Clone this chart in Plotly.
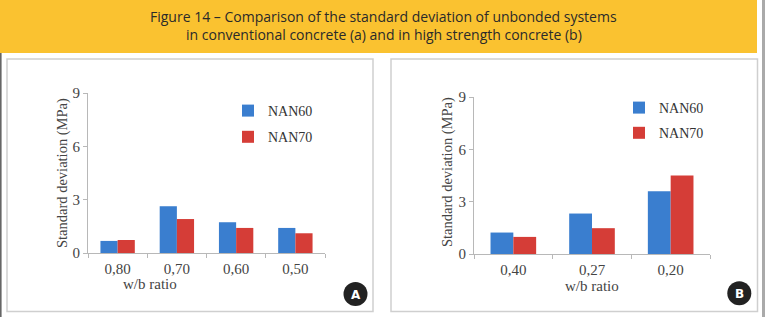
import plotly.graph_objects as go

W, H = 767, 317
def X(p): return p / W
def Y(p): return 1 - p / H

# ---- data ----
cats_a = ["0,80", "0,70", "0,60", "0,50"]
nan60_a = [0.68, 2.63, 1.73, 1.41]
nan70_a = [0.73, 1.91, 1.41, 1.11]

cats_b = ["0,40", "0,27", "0,20"]
nan60_b = [1.23, 2.32, 3.60]
nan70_b = [0.98, 1.48, 4.50]

y_ticks = [0, 3, 6, 9]
title_lines = ["Figure 14 – Comparison of the standard deviation of unbonded systems",
               "in conventional concrete (a) and in high strength concrete (b)"]

BLUE = "#3a7ecf"
RED = "#d53d37"
SERIF = "Liberation Serif"
AX = "#b8b8b8"

fig = go.Figure()
fig.add_trace(go.Bar(x=cats_a, y=nan60_a, name="NAN60", marker=dict(color=BLUE, line=dict(width=0)),
                     xaxis="x", yaxis="y", legend="legend", legendgroup="a1"))
fig.add_trace(go.Bar(x=cats_a, y=nan70_a, name="NAN70", marker=dict(color=RED, line=dict(width=0)),
                     xaxis="x", yaxis="y", legend="legend", legendgroup="a2"))
fig.add_trace(go.Bar(x=cats_b, y=nan60_b, name="NAN60", marker=dict(color=BLUE, line=dict(width=0)),
                     xaxis="x2", yaxis="y2", legend="legend2", legendgroup="b1"))
fig.add_trace(go.Bar(x=cats_b, y=nan70_b, name="NAN70", marker=dict(color=RED, line=dict(width=0)),
                     xaxis="x2", yaxis="y2", legend="legend2", legendgroup="b2"))

xcommon = dict(type="category", showgrid=False, showline=True, linecolor=AX, linewidth=1.2,
               ticks="outside", tickson="boundaries", ticklen=4, tickcolor=AX, automargin=False,
               ticklabelstandoff=2,
               tickfont=dict(family=SERIF, size=15, color="#444"), fixedrange=True)
ycommon = dict(range=[0, 9], tickvals=y_ticks, showgrid=False, showline=True, linecolor=AX,
               linewidth=1.2, ticks="outside", ticklen=4, tickcolor=AX, zeroline=False, automargin=False,
               ticksuffix="\u2002",
               tickfont=dict(family=SERIF, size=15, color="#444"), fixedrange=True)

fig.update_layout(
    width=W, height=H, margin=dict(l=0, r=0, t=0, b=0, pad=0, autoexpand=False),
    paper_bgcolor="white", plot_bgcolor="rgba(0,0,0,0)",
    barmode="group", bargap=0.42, bargroupgap=0,
    xaxis=dict(domain=[X(88), X(325)], anchor="y", **xcommon),
    yaxis=dict(domain=[Y(253), Y(93)], anchor="x", **ycommon),
    xaxis2=dict(domain=[X(474), X(710)], anchor="y2", **xcommon),
    yaxis2=dict(domain=[Y(254), Y(97)], anchor="x2", **ycommon),
    legend=dict(x=X(228), y=Y(95), xanchor="left", yanchor="top", bgcolor="rgba(0,0,0,0)",
                font=dict(family=SERIF, size=14, color="#333"), traceorder="grouped",
                tracegroupgap=5, itemwidth=30),
    legend2=dict(x=X(619), y=Y(92), xanchor="left", yanchor="top", bgcolor="rgba(0,0,0,0)",
                 font=dict(family=SERIF, size=14, color="#333"), traceorder="grouped",
                 tracegroupgap=4, itemwidth=30),
    showlegend=True,
)

shapes = [
    # banner
    dict(type="rect", xref="paper", yref="paper", x0=X(0), x1=X(757), y0=Y(0), y1=Y(53),
         fillcolor="#fac230", line=dict(width=0), layer="below"),
    # page edge lines
    dict(type="line", xref="paper", yref="paper", x0=X(0.8), x1=X(0.8), y0=Y(53), y1=Y(317),
         line=dict(color="#666", width=1.6)),
    dict(type="line", xref="paper", yref="paper", x0=X(763.5), x1=X(763.5), y0=Y(0), y1=Y(317),
         line=dict(color="#aaa", width=3)),
    # panels
    dict(type="rect", xref="paper", yref="paper", x0=X(7), x1=X(373), y0=Y(59), y1=Y(311.5),
         line=dict(color="#cfcfcf", width=1.5), layer="below"),
    dict(type="rect", xref="paper", yref="paper", x0=X(391), x1=X(757.5), y0=Y(59), y1=Y(311.5),
         line=dict(color="#cfcfcf", width=1.5), layer="below"),
    # badges
    dict(type="circle", xref="paper", yref="paper", x0=X(343.5), x1=X(367.5), y0=Y(282), y1=Y(306),
         fillcolor="#222", line=dict(width=0)),
    dict(type="circle", xref="paper", yref="paper", x0=X(727.3), x1=X(751.3), y0=Y(281.3), y1=Y(305.3),
         fillcolor="#222", line=dict(width=0)),
]
fig.update_layout(shapes=shapes)

def note(text, x, y, size, family, color, angle=0):
    return dict(text=text, x=X(x), y=Y(y), xref="paper", yref="paper", showarrow=False,
                xanchor="center", yanchor="middle", textangle=angle,
                font=dict(family=family, size=size, color=color))

ann = [
    note(title_lines[0], 383.5, 16, 14, "Open Sans", "#2a2a2a"),
    note(title_lines[1], 383.5, 34, 14, "Open Sans", "#2a2a2a"),
    note("Standard deviation (MPa)", 62, 173, 14.5, SERIF, "#444", -90),
    note("Standard deviation (MPa)", 447, 172, 14.5, SERIF, "#444", -90),
    note("w/b ratio", 150, 284, 15, SERIF, "#444"),
    note("w/b ratio", 592, 286, 15, SERIF, "#444"),
    note("<b>A</b>", 355.5, 294.5, 12, "DejaVu Sans", "white"),
    note("<b>B</b>", 739.3, 293.8, 12, "DejaVu Sans", "white"),
]
fig.update_layout(annotations=ann)

fig.write_html("out.html")
